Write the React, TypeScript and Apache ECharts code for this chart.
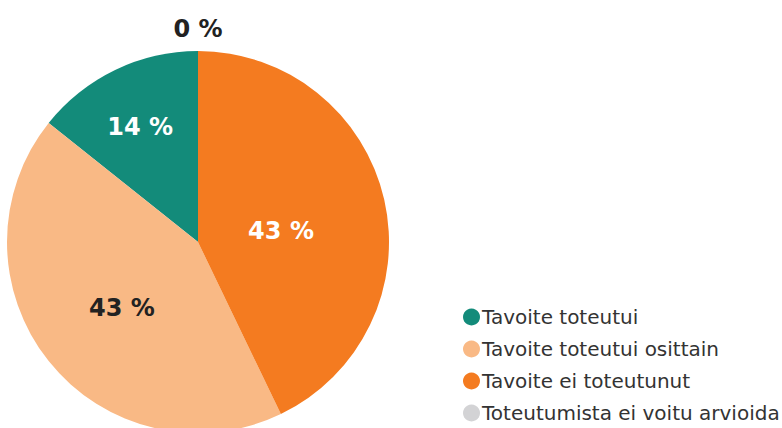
import React, { useEffect, useRef } from "react";
import * as echarts from "echarts";

const categories = [
  "Tavoite toteutui",
  "Tavoite toteutui osittain",
  "Tavoite ei toteutunut",
  "Toteutumista ei voitu arvioida",
];
const values = [1, 3, 3, 0];
const percentLabels = ["14 %", "43 %", "43 %", "0 %"];
const colors = ["#138b7a", "#f9b985", "#f47b20", "#d3d3d5"];
const labelColors = ["#ffffff", "#222222", "#ffffff", "#222222"];

export default function App() {
  const ref = useRef<HTMLDivElement>(null);
  useEffect(() => {
    document.body.style.margin = "0";
    if (!ref.current) return;
    const chart = echarts.init(ref.current, null, { renderer: "svg" });
    const labelOffsets = [
      [-15, -26],
      [1, 5],
      [-13, 11],
      [0, -115],
    ];
    chart.setOption({
      animation: false,
      legend: {
        orient: "vertical",
        left: 463,
        top: 307,
        padding: 0,
        icon: "circle",
        itemWidth: 17,
        itemHeight: 17,
        itemGap: 12,
        selectedMode: false,
        textStyle: {
          fontFamily: "DejaVu Sans",
          fontSize: 20,
          color: "#333333",
          padding: [0, 0, 0, -3],
        },
        data: categories,
      },
      series: [
        {
          type: "pie",
          center: [198, 242],
          radius: [0, 191],
          startAngle: 90,
          clockwise: false,
          avoidLabelOverlap: false,
          silent: true,
          label: {
            show: true,
            position: "inside",
            fontFamily: "DejaVu Sans",
            fontWeight: "bold",
            fontSize: 24,
          },
          labelLine: { show: false },
          labelLayout: (p: any) => {
            const o = labelOffsets[p.dataIndex] || [0, 0];
            return { dx: o[0], dy: o[1] };
          },
          data: categories.map((name, i) => ({
            name,
            value: values[i],
            itemStyle: { color: colors[i] },
            label: {
              formatter: percentLabels[i],
              color: labelColors[i],
            },
          })),
        },
      ],
    });
    return () => chart.dispose();
  }, []);
  return <div ref={ref} style={{ width: 782, height: 428 }} />;
}
